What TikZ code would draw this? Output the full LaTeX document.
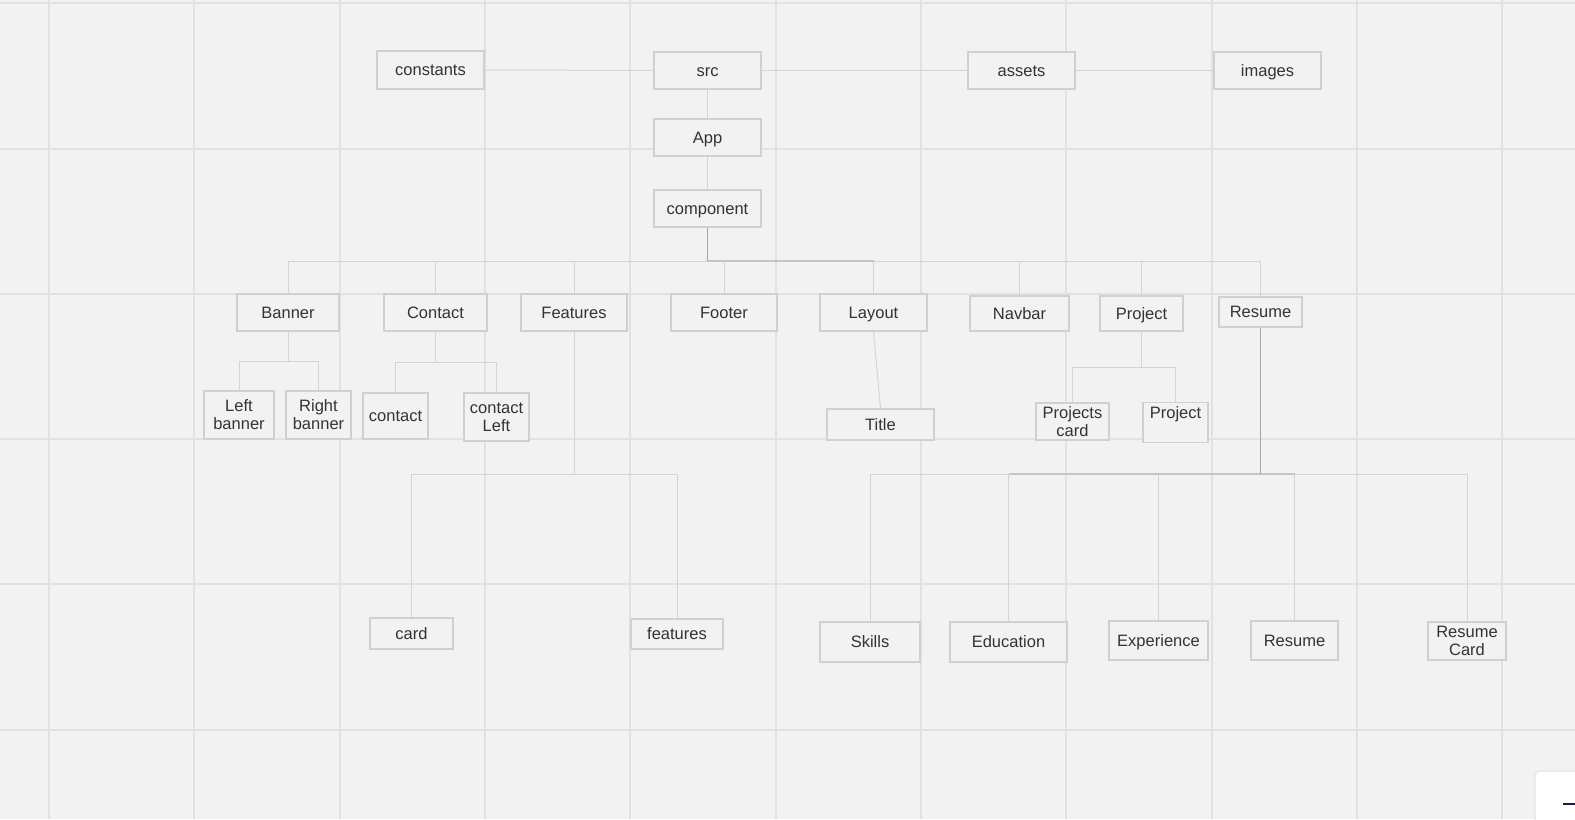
\documentclass[tikz,border=0pt]{standalone}
\usepackage{fontspec}
\setmainfont{Liberation Sans}
\definecolor{bg}{HTML}{F2F2F2}
\definecolor{gridc}{HTML}{E1E1E1}
\definecolor{boxc}{HTML}{D0D0D0}
\definecolor{linec}{HTML}{D4D4D4}
\definecolor{darkline}{HTML}{A4A4A4}
\definecolor{midline}{HTML}{C4C4C4}
\definecolor{txt}{HTML}{333333}
\definecolor{navyc}{HTML}{1C1C4C}
\newcommand{\twolines}[2]{\rule{0pt}{14.9bp}#1\\#2\rule[-3.5bp]{0pt}{3.5bp}}
\tikzset{
  basebox/.style={draw=boxc, line width=1.3bp, fill=bg, inner sep=0pt, align=center,
    text=txt, font=\fontsize{16.5bp}{18bp}\selectfont},
  box/.style={basebox, text height=14.9bp, text depth=3.5bp},
  conn/.style={draw=linec, line width=1bp},
  darkconn/.style={draw=darkline, line width=1.5bp},
  midconn/.style={draw=midline, line width=1.3bp},
  gridl/.style={draw=gridc, line width=1.8bp}
}
\begin{document}
\begin{tikzpicture}[x=1bp,y=-1bp]
\fill[bg] (0,0) rectangle (1575,819);
\useasboundingbox (0,0) rectangle (1575,819);
% grid
\foreach \gx in {49,194,340,485,630,776,921,1066,1212,1357,1502}
  \draw[gridl] (\gx,0) -- (\gx,819);
\foreach \gy in {3,149,294,439,584,730}
  \draw[gridl] (0,\gy) -- (1575,\gy);

% nodes
\node[box, minimum width=107bp, minimum height=38bp] (constants) at (430.5,70) {constants};
\node[box, minimum width=107bp, minimum height=37bp] (src) at (707.5,70.5) {src};
\node[box, minimum width=107bp, minimum height=37bp] (assets) at (1021.5,70.5) {assets};
\node[box, minimum width=107bp, minimum height=37bp] (images) at (1267.5,70.5) {images};
\node[box, minimum width=107bp, minimum height=37bp] (app) at (707.5,137.5) {App};
\node[box, minimum width=107bp, minimum height=37bp] (component) at (707.5,208.5) {component};

\node[box, minimum width=102bp, minimum height=37bp] (banner) at (288,312.5) {Banner};
\node[box, minimum width=103bp, minimum height=37bp] (contact) at (435.5,312.5) {Contact};
\node[box, minimum width=106bp, minimum height=37bp] (features) at (574,312.5) {Features};
\node[box, minimum width=106bp, minimum height=37bp] (footer) at (724,312.5) {Footer};
\node[box, minimum width=107bp, minimum height=37bp] (layout) at (873.5,312.5) {Layout};
\node[box, minimum width=99bp, minimum height=35bp] (navbar) at (1019.5,313.5) {Navbar};
\node[box, minimum width=83bp, minimum height=35bp] (project) at (1141.5,313.5) {Project};
\node[box, minimum width=83bp, minimum height=30bp] (resume) at (1260.5,312) {Resume};

\node[basebox, minimum width=70bp, minimum height=48bp] (leftb) at (239,415) {\twolines{Left}{banner}};
\node[basebox, minimum width=65bp, minimum height=48bp] (rightb) at (318.5,415) {\twolines{Right}{banner}};
\node[box, minimum width=65bp, minimum height=46bp] (contactc) at (395.5,416) {contact};
\node[basebox, minimum width=65bp, minimum height=48bp] (contactl) at (496.5,417) {\twolines{contact}{Left}};
\node[box, minimum width=107bp, minimum height=31bp] (title) at (880.5,424.5) {Title};
\node[basebox, minimum width=73bp, minimum height=37bp] (pcard) at (1072.5,421.5) {\twolines{Projects}{card}};
\node[basebox, minimum width=65bp, minimum height=40bp, anchor=north] (projectc) at (1175.5,402) {};
\node[text=txt, font=\fontsize{16.5bp}{18bp}\selectfont, anchor=base] (projectct) at (1175.5,418) {Project};

\node[box, minimum width=83bp, minimum height=31bp] (card) at (411.5,633.5) {card};
\node[box, minimum width=92bp, minimum height=30bp] (featc) at (677,634) {features};
\node[box, minimum width=100bp, minimum height=40bp] (skills) at (870,642) {Skills};
\node[box, minimum width=117bp, minimum height=40bp] (education) at (1008.5,642) {Education};
\node[box, minimum width=99bp, minimum height=39bp] (experience) at (1158.5,640.5) {Experience};
\node[box, minimum width=87bp, minimum height=39bp] (resumec) at (1294.5,640.5) {Resume};
\node[basebox, minimum width=78bp, minimum height=38bp] (rcard) at (1467,641) {\twolines{Resume}{Card}};

% junction coordinates
\coordinate (jcomp) at (707.5,261);
\coordinate (jban) at (288,361);
\coordinate (jcon) at (435.5,362);
\coordinate (jfeat) at (574,474);
\coordinate (jproj) at (1141.5,367);
\coordinate (jres) at (1260.5,474);

% connectors
\draw[conn] (constants.east) -- (src.west);
\draw[conn] (src.east) -- (assets.west);
\draw[conn] (assets.east) -- (images.west);
\draw[conn] (src.south) -- (app.north);
\draw[conn] (app.south) -- (component.north);

\draw[conn] (jcomp) -| (banner.north);
\draw[conn] (jcomp) -| (contact.north);
\draw[conn] (jcomp) -| (features.north);
\draw[conn] (jcomp) -| (footer.north);
\draw[conn] (jcomp) -| (layout.north);
\draw[conn] (jcomp) -| (navbar.north);
\draw[conn] (jcomp) -| (project.north);
\draw[conn] (jcomp) -| (resume.north);
\draw[midconn] (jcomp) -- (layout.north |- jcomp);
\draw[darkconn] (component.south) -- (jcomp);

\draw[conn] (banner.south) -- (jban);
\draw[conn] (jban) -| (leftb.north);
\draw[conn] (jban) -| (rightb.north);

\draw[conn] (contact.south) -- (jcon);
\draw[conn] (jcon) -| (contactc.north);
\draw[conn] (jcon) -| (contactl.north);

\draw[conn] (features.south) -- (jfeat);
\draw[conn] (jfeat) -| (card.north);
\draw[conn] (jfeat) -| (featc.north);

\draw[conn] (layout.south) -- (title.north);

\draw[conn] (project.south) -- (jproj);
\draw[conn] (jproj) -| (pcard.north);
\draw[conn] (jproj) -| (projectc.north);

\draw[conn] (jres) -| (skills.north);
\draw[conn] (jres) -| (education.north);
\draw[conn] (jres) -| (experience.north);
\draw[conn] (jres) -| (resumec.north);
\draw[conn] (jres) -| (rcard.north);
\draw[midconn] (education.north |- jres) -- (resumec.north |- jres);
\draw[darkconn] (resume.south) -- (jres);

% bottom-right widget
\fill[black!8, rounded corners=4bp] (1534,770) rectangle (1580,825);
\fill[white, rounded corners=4bp] (1536,772) rectangle (1580,825);
\draw[navyc, line width=2bp] (1563,804) -- (1575,804);
\end{tikzpicture}
\end{document}
